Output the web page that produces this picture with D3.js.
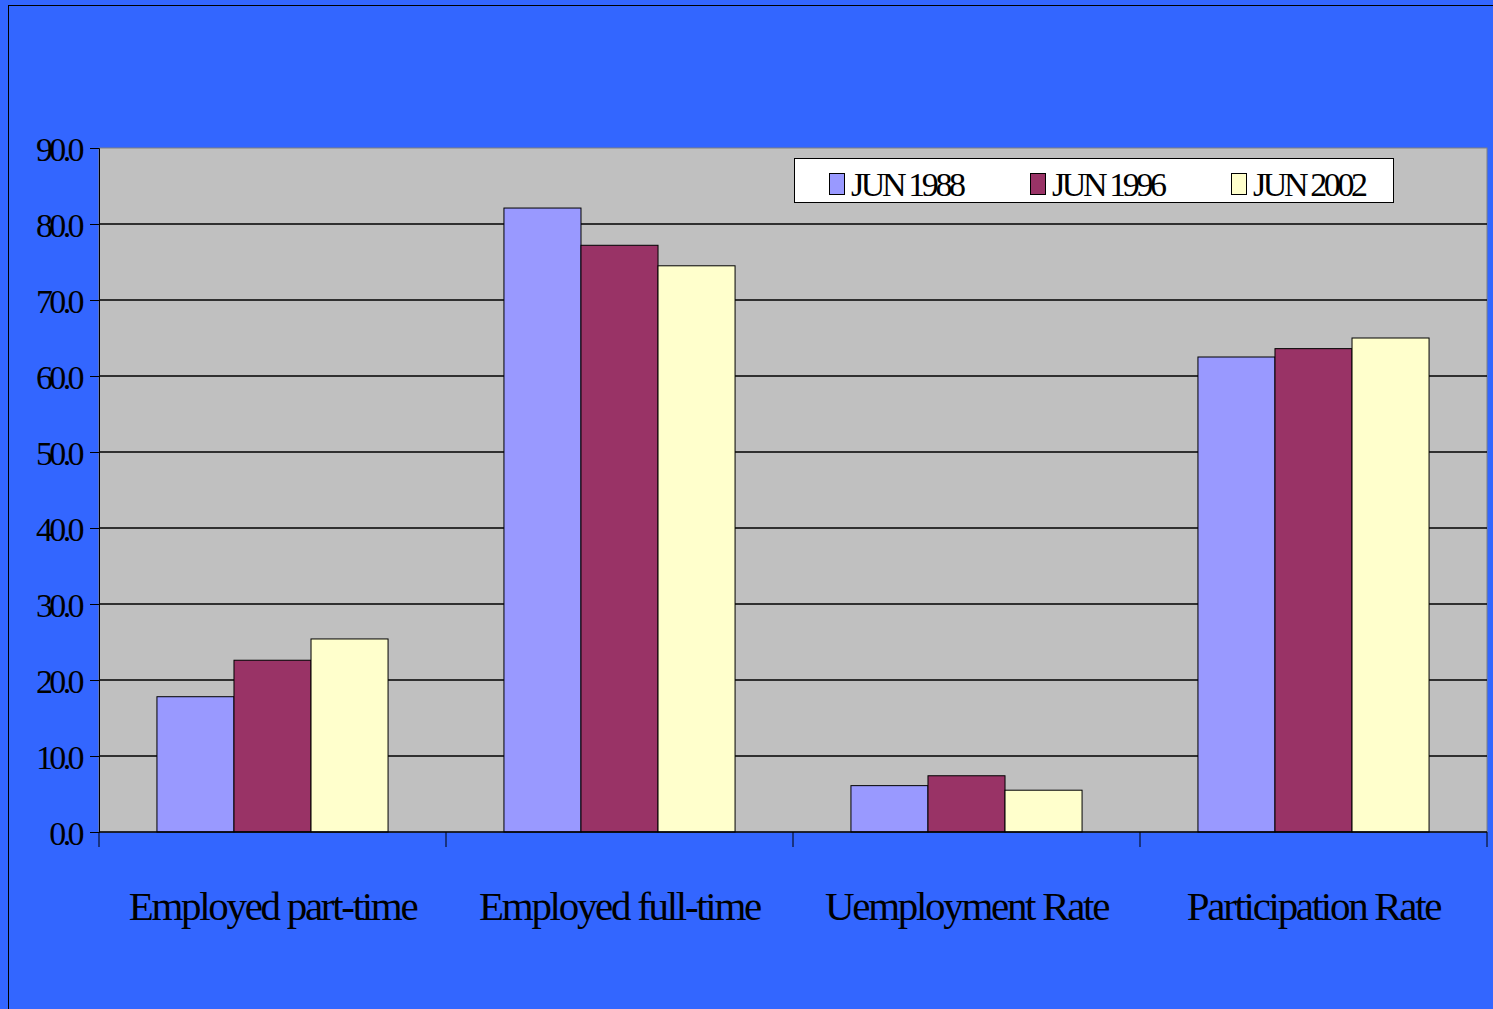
<!DOCTYPE html>
<html lang="en">
<head>
  <meta charset="utf-8" />
  <title>Employment bar chart</title>
  <script src="https://cdn.jsdelivr.net/npm/d3@7"></script>
  <style>
    html, body { margin: 0; padding: 0; background: #3366FF; }
    svg { display: block; }
    .tick-label { font-family: "Liberation Serif", "Times New Roman", serif; }
  </style>
</head>
<body>
  <div id="chart"></div>
  <script>
    // data
    const categories = ["Employed part-time", "Employed full-time", "Uemployment Rate", "Participation Rate"];
    const seriesNames = ["JUN 1988", "JUN 1996", "JUN 2002"];
    const jun1988 = [17.8, 82.1, 6.1, 62.5];
    const jun1996 = [22.6, 77.2, 7.4, 63.6];
    const jun2002 = [25.4, 74.5, 5.5, 65.0];
    const yTicks = [0, 10, 20, 30, 40, 50, 60, 70, 80, 90];
    const colors = ["#9999FF", "#993366", "#FFFFCC"];

    const seriesValues = [jun1988, jun1996, jun2002];

    const W = 1493, H = 1009;
    const plot = { left: 99, right: 1487, top: 148, bottom: 832 };

    const svg = d3.select("#chart").append("svg")
      .attr("width", W)
      .attr("height", H);

    // blue background + thin outer frame
    svg.append("rect").attr("width", W).attr("height", H).attr("fill", "#3366FF");
    svg.append("rect")
      .attr("x", 8.5).attr("y", 5.5)
      .attr("width", W + 20).attr("height", H + 20)
      .attr("fill", "none").attr("stroke", "#000").attr("stroke-width", 1);

    const y = d3.scaleLinear().domain([0, 90]).range([plot.bottom, plot.top]);
    const x0 = d3.scaleBand().domain(categories).range([plot.left, plot.right]).padding(0);
    const groupW = x0.bandwidth();
    const x1 = d3.scaleBand().domain(seriesNames)
      .range([groupW * 0.167, groupW * 0.833]).padding(0);

    // plot area
    svg.append("rect")
      .attr("x", plot.left).attr("y", plot.top)
      .attr("width", plot.right - plot.left).attr("height", plot.bottom - plot.top)
      .attr("fill", "#C0C0C0").attr("stroke", "#808080").attr("stroke-width", 1);

    // grid lines
    svg.append("g")
      .selectAll("line")
      .data(yTicks.filter(d => d > 0 && d < 90))
      .join("line")
      .attr("x1", plot.left).attr("x2", plot.right)
      .attr("y1", d => y(d)).attr("y2", d => y(d))
      .attr("stroke", "#000").attr("stroke-width", 1.3);

    // bars
    const groups = svg.append("g")
      .selectAll("g")
      .data(categories)
      .join("g")
      .attr("transform", d => `translate(${x0(d)},0)`);

    groups.selectAll("rect")
      .data((d, i) => seriesNames.map((s, j) => ({ s, v: seriesValues[j][i], c: colors[j] })))
      .join("rect")
      .attr("x", d => x1(d.s))
      .attr("y", d => y(d.v))
      .attr("width", x1.bandwidth())
      .attr("height", d => y(0) - y(d.v))
      .attr("fill", d => d.c)
      .attr("stroke", "#000")
      .attr("stroke-width", 1);

    // y axis
    const yAxis = svg.append("g")
      .attr("transform", `translate(${plot.left},0)`)
      .call(d3.axisLeft(y).tickValues(yTicks).tickFormat(d3.format(".1f")).tickSize(9).tickPadding(9));
    yAxis.select(".domain").attr("stroke", "#000");
    yAxis.selectAll(".tick line").attr("stroke", "#000");
    yAxis.selectAll("text")
      .attr("class", "tick-label")
      .attr("fill", "#000")
      .attr("dy", "0.36em")
      .style("font-size", "34px")
      .style("letter-spacing", "-3.6px");

    // x axis baseline and category ticks
    svg.append("line")
      .attr("x1", plot.left).attr("x2", plot.right)
      .attr("y1", plot.bottom).attr("y2", plot.bottom)
      .attr("stroke", "#000").attr("stroke-width", 1.3);
    const xBounds = categories.map(c => x0(c)).concat([plot.right]);
    svg.append("g")
      .selectAll("line")
      .data(xBounds)
      .join("line")
      .attr("x1", d => d).attr("x2", d => d)
      .attr("y1", plot.bottom).attr("y2", plot.bottom + 15)
      .attr("stroke", "#000");

    svg.append("g")
      .selectAll("text")
      .data(categories)
      .join("text")
      .attr("class", "tick-label")
      .attr("x", d => x0(d) + groupW / 2)
      .attr("y", 920)
      .attr("text-anchor", "middle")
      .style("font-size", "41px")
      .style("letter-spacing", "-2.3px")
      .attr("fill", "#000")
      .text(d => d);

    // legend
    const legend = svg.append("g").attr("transform", "translate(794,158)");
    legend.append("rect")
      .attr("x", 0.5).attr("y", 0.5).attr("width", 599).attr("height", 44)
      .attr("fill", "#fff").attr("stroke", "#000").attr("stroke-width", 1);
    const items = legend.selectAll("g")
      .data(seriesNames)
      .join("g")
      .attr("transform", (d, i) => `translate(${35 + i * 201},0)`);
    items.append("rect")
      .attr("x", 0.5).attr("y", 15.5).attr("width", 15).attr("height", 21)
      .attr("fill", (d, i) => colors[i]).attr("stroke", "#000").attr("stroke-width", 1);
    items.append("text")
      .attr("class", "tick-label")
      .attr("x", 22).attr("y", 38)
      .style("font-size", "34px")
      .style("letter-spacing", "-3.4px")
      .attr("fill", "#000")
      .text(d => d);
  </script>
</body>
</html>
